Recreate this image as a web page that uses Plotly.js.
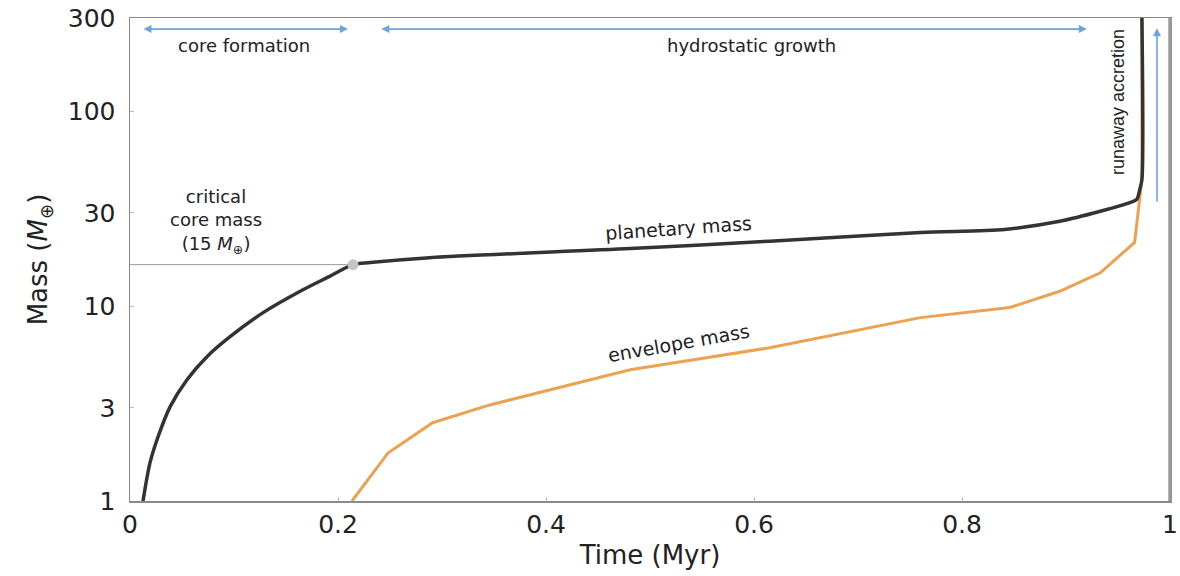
<!DOCTYPE html>
<html>
<head>
<meta charset="utf-8">
<script src="https://cdn.plot.ly/plotly-3.0.1.min.js"></script>
<style>
  html, body { margin: 0; padding: 0; background: #fff; }
  #chart { width: 1180px; height: 576px; }
</style>
</head>
<body>
<div id="chart"></div>
<script>
// Planetary (total) mass vs time
const timePlanet = [0.0125, 0.0192, 0.0269, 0.0385, 0.0548, 0.074, 0.0962, 0.128, 0.161, 0.192, 0.2144, 0.231, 0.288, 0.481, 0.615, 0.760, 0.841, 0.894, 0.933, 0.962, 0.968, 0.971, 0.973, 0.973];
const massPlanet = [1, 1.57, 2.13, 3.04, 4.19, 5.50, 6.96, 9.25, 11.7, 14.2, 16.3, 16.7, 17.7, 19.7, 21.5, 23.8, 24.7, 27.2, 30.6, 34.0, 35.2, 39.7, 44.6, 300];
// Envelope mass vs time
const timeEnvelope = [0.2135, 0.248, 0.291, 0.346, 0.481, 0.615, 0.760, 0.846, 0.894, 0.933, 0.966, 0.971, 0.973, 0.973];
const massEnvelope = [1, 1.76, 2.52, 3.11, 4.71, 6.11, 8.72, 9.82, 11.9, 14.8, 21.2, 38.3, 44.6, 300];
// Critical core mass point
const criticalTime = [0.2144];
const criticalMass = [16.3];
const criticalLineX = [0, 0.2144];
const criticalLineY = [16.3, 16.3];
// Ticks
const xTickVals = [0, 0.2, 0.4, 0.6, 0.8, 1];
const xTickText = ['0', '0.2', '0.4', '0.6', '0.8', '1'];
const yTickVals = [1, 3, 10, 30, 100, 300];
const yTickText = ['1', '3', '10', '30', '100', '300'];

const FONT = 'DejaVu Sans, Liberation Sans, Arial, sans-serif';
const BLUE = '#6fa3dc';

const traces = [
  {
    x: criticalLineX, y: criticalLineY, mode: 'lines',
    line: { color: '#9a9a9a', width: 1 }, hoverinfo: 'skip', showlegend: false
  },
  {
    x: timeEnvelope, y: massEnvelope, mode: 'lines', name: 'envelope mass',
    line: { color: '#eba252', width: 3 }, showlegend: false
  },
  {
    x: timePlanet, y: massPlanet, mode: 'lines', name: 'planetary mass',
    line: { color: '#333333', width: 3.5, shape: 'spline', smoothing: 0.8 }, showlegend: false
  },
  {
    x: criticalTime, y: criticalMass, mode: 'markers',
    marker: { color: '#c4c4c4', size: 11 }, showlegend: false
  }
];

function label(x, y, text, size, extra) {
  return Object.assign({
    xref: 'paper', yref: 'paper', x: x, y: y, text: text, showarrow: false,
    xanchor: 'center', yanchor: 'middle',
    font: { size: size, family: FONT, color: '#222' }
  }, extra || {});
}
function arrow(x, y, ax, ay, both) {
  const a = {
    xref: 'paper', yref: 'paper', x: x, y: y, ax: ax, ay: ay, axref: 'pixel', ayref: 'pixel',
    text: '', showarrow: true, arrowhead: 2, arrowsize: 1,
    arrowwidth: 1.6, arrowcolor: BLUE, standoff: 0, startstandoff: 0,
    xanchor: 'center', yanchor: 'middle'
  };
  if (both) { a.arrowside = 'end+start'; }
  return a;
}

const layout = {
  width: 1180, height: 576,
  margin: { l: 130, r: 10, t: 18, b: 75 },
  paper_bgcolor: '#fff', plot_bgcolor: '#fff',
  font: { family: FONT, color: '#222' },
  showlegend: false,
  xaxis: {
    range: [0, 1], tickvals: xTickVals, ticktext: xTickText,
    showgrid: false, zeroline: false,
    showline: true, linecolor: '#8a8a8a', linewidth: 1.5, mirror: true,
    ticks: 'inside', ticklen: 4, tickcolor: '#bbb',
    tickfont: { size: 25, family: FONT, color: '#222' },
    title: { text: 'Time (Myr)', font: { size: 26, family: FONT, color: '#222' }, standoff: 8 }
  },
  yaxis: {
    type: 'log', range: [0, Math.log10(300)],
    tickvals: yTickVals, ticktext: yTickText,
    showgrid: false, zeroline: false,
    showline: true, linecolor: '#8a8a8a', linewidth: 1.5, mirror: true,
    ticks: 'inside', ticklen: 4, tickcolor: '#bbb',
    ticklabelstandoff: 8,
    tickfont: { size: 25, family: FONT, color: '#222' },
    title: { text: 'Mass (<i>M</i><sub>⊕</sub>)', font: { size: 26, family: FONT, color: '#222' }, standoff: 12 }
  },
  shapes: [
    { type: 'line', xref: 'paper', yref: 'paper', x0: 1, x1: 1, y0: 0, y1: 1,
      line: { color: '#9a9a9a', width: 3.5 } }
  ],
  annotations: [
    arrow(0.2096, 0.977, -206, 0, true),
    label(0.1096, 0.944, 'core formation', 18),
    arrow(0.920, 0.977, -707, 0, true),
    label(0.598, 0.944, 'hydrostatic growth', 18),
    arrow(0.9875, 0.979, 0, 175, false),
    label(0.95, 0.826, 'runaway accretion', 18,
      { textangle: -90, font: { size: 18, family: 'Liberation Sans, Arial, sans-serif', color: '#222' } }),
    label(0.0827, 0.578, 'critical<br>core mass<br>(15 <i>M</i><sub>⊕</sub>)', 18, { align: 'center' }),
    label(0.527, 0.565, 'planetary mass', 19, { textangle: -4 }),
    label(0.527, 0.327, 'envelope mass', 19, { textangle: -10 })
  ]
};

Plotly.newPlot('chart', traces, layout, { displayModeBar: false, staticPlot: true });
</script>
</body>
</html>
